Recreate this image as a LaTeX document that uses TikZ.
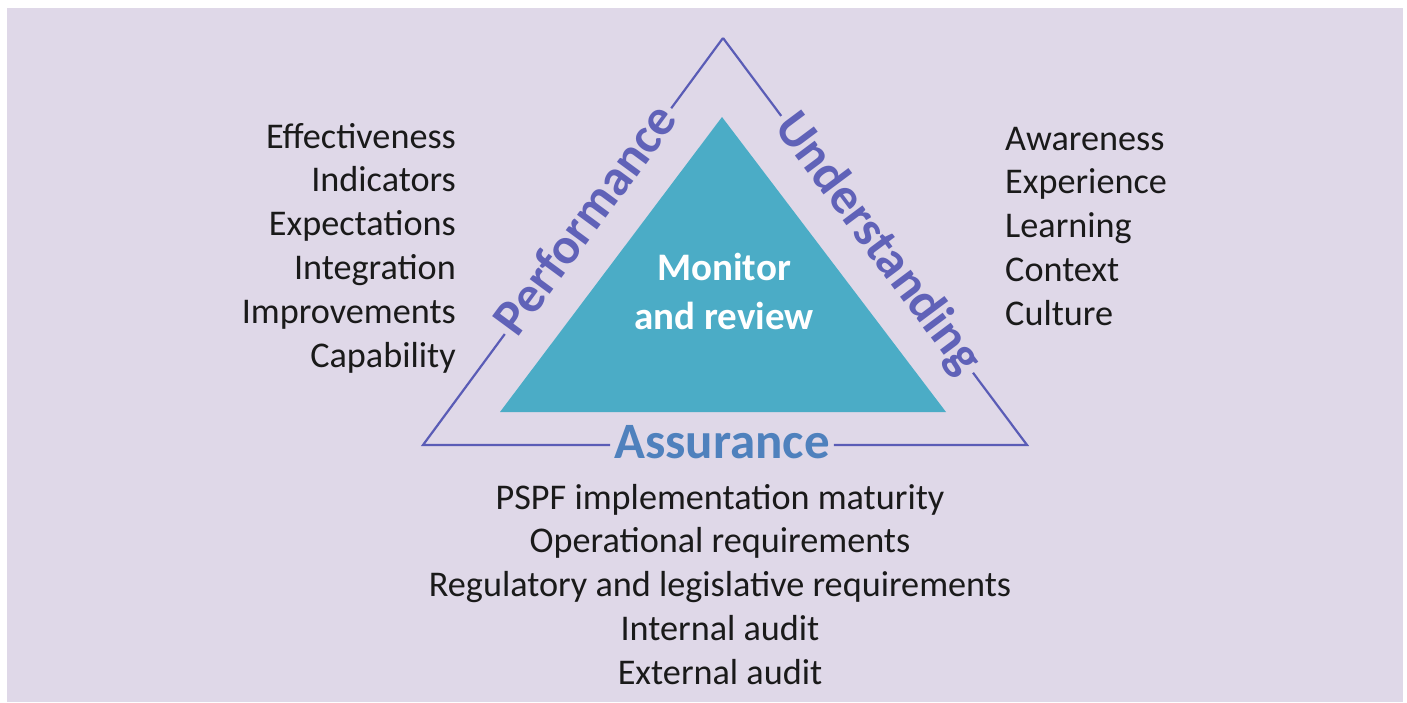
\documentclass[tikz,border=0pt]{standalone}
\usepackage{fontspec}
\setmainfont{Carlito}
\usetikzlibrary{calc}
\definecolor{lav}{HTML}{DFD8E8}
\definecolor{tealfill}{HTML}{4BACC6}
\definecolor{edgecol}{HTML}{5A5CB6}
\definecolor{perfcol}{HTML}{6062B8}
\definecolor{asscol}{HTML}{4F81BD}
\definecolor{txt}{HTML}{1A1A1A}
\tikzset{
  edge/.style={draw=edgecol, line width=2.2pt},
  edgelabel/.style={font=\bfseries\fontsize{51}{60}\selectfont, anchor=center, inner sep=0pt, inner xsep=4pt, text height=38pt, text depth=12pt},
  listtext/.style={font=\fontsize{36.2}{43}\selectfont, text=txt, inner sep=0pt},
  centertext/.style={font=\bfseries\fontsize{39}{49}\selectfont, text=white, align=center, inner sep=0pt}
}
\begin{document}
\begin{tikzpicture}[x=1pt,y=-1pt]
\useasboundingbox (0,0) rectangle (1407,702);
\fill[white] (0,0) rectangle (1407,702);
\fill[lav] (7,8) rectangle (1403,702);
\coordinate (apex) at (723,38);
\coordinate (bl) at (423,445);
\coordinate (br) at (1027,445);
% inner triangle
\fill[tealfill] (722,117) -- (500,412) -- (946,412) -- cycle;
\node[centertext] (mr) at (724,291) {Monitor\\and review};
% edge labels
\node[edgelabel, text=perfcol, rotate=53.6] (perf) at ($(bl)!0.55!(apex)$) {Performance};
\node[edgelabel, text=perfcol, rotate=-53.25] (under) at ($(apex)!0.507!(br)$) {Understanding};
\node[edgelabel, text=asscol] (assur) at (722,445) {Assurance};
% outer triangle segments
\draw[edge] (apex) -- (perf.east);
\draw[edge] (perf.west) -- (bl) -- (assur.west);
\draw[edge] (assur.east) -- (br) -- (under.east);
\draw[edge] (under.west) -- (apex);
% left list
\foreach \t [count=\i from 0] in {Effectiveness,Indicators,Expectations,Integration,Improvements,Capability}
  \node[listtext, anchor=base east] (left\i) at (456,{148+43.8*\i}) {\t};
% right list
\foreach \t [count=\i from 0] in {Awareness,Experience,Learning,Context,Culture}
  \node[listtext, anchor=base west] (right\i) at (1005,{150+43.8*\i}) {\t};
% bottom list
\foreach \t [count=\i from 0] in {PSPF implementation maturity,Operational requirements,Regulatory and legislative requirements,Internal audit,External audit}
  \node[listtext, anchor=base] (bot\i) at (720,{509+43.8*\i}) {\t};
\end{tikzpicture}
\end{document}
